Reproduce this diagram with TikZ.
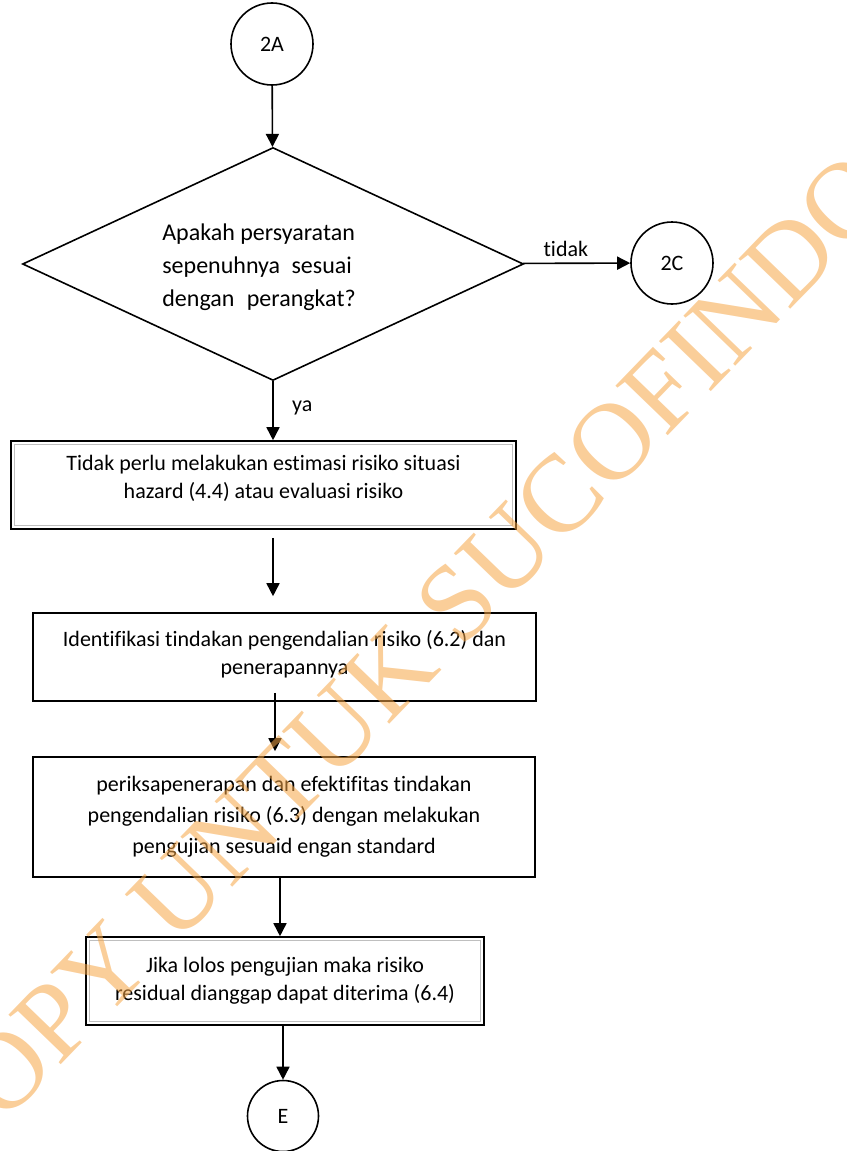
\documentclass[tikz,border=0pt]{standalone}
\usepackage{fontspec}
\setmainfont{Carlito}[Ligatures={NoCommon,NoRare,NoContextual}]
\newfontfamily\wmfont{Liberation Serif}
\usetikzlibrary{shapes.geometric,arrows.meta}
\definecolor{wm}{RGB}{245,165,70}

\begin{document}
\begin{tikzpicture}[x=1pt,y=-1pt,>={Triangle[length=13pt,width=13pt]},line width=1.6pt]
\tikzstyle{circ}=[circle,draw=black,minimum size=82pt,inner sep=0pt,font=\fontsize{22}{28}\selectfont]
\tikzstyle{square}=[rectangle,draw=black,inner sep=0pt,align=center,font=\fontsize{22}{28}\selectfont]
\tikzstyle{lbl}=[font=\fontsize{22}{28}\selectfont]
\tikzstyle{rim}=[draw=black!25,line width=1pt]
\useasboundingbox (0,0) rectangle (846,1151);
\node [circ] (C2A) at (272,44) {2A};
\node [diamond,draw=black,minimum width=501pt,minimum height=233pt,inner sep=0pt] (Q) at (273,264) {}
edge [<-] (C2A);
\node [align=left,font=\fontsize{24}{33}\selectfont] (Qtext) at (259,267) {Apakah persyaratan\\sepenuhnya\hspace{6pt} sesuai\\dengan\hspace{7pt} perangkat?};
\node [circ] (C2C) at (672,263) {2C}
edge [<-] node [lbl,above,pos=0.6,yshift=2pt] {tidak} (Q);
\node [square,minimum width=505pt,minimum height=88pt,text depth=16pt] (B1) at (263.5,485) {Tidak perlu melakukan estimasi risiko situasi\\hazard (4.4) atau evaluasi risiko};
\node [square,minimum width=503pt,minimum height=88pt,text depth=9pt] (B2) at (284.5,657) {Identifikasi tindakan pengendalian risiko (6.2) dan\\penerapannya};
\node [square,minimum width=502pt,minimum height=120pt,font=\fontsize{22}{31}\selectfont] (B3) at (284,817) {periksapenerapan dan efektifitas tindakan\\pengendalian risiko (6.3) dengan melakukan\\pengujian sesuaid engan standard};
\node [square,minimum width=398pt,minimum height=88pt] (B4) at (285,981) {Jika lolos pengujian maka risiko\\residual dianggap dapat diterima (6.4)};
\node [circ,minimum size=71pt] (E) at (283,1116) {E};
\draw [rim] ([shift={(4,4)}]B1.north west) rectangle ([shift={(-4,-4)}]B1.south east);
\draw [rim] ([shift={(4,4)}]B4.north west) rectangle ([shift={(-4,-4)}]B4.south east);
\draw [->] (Q.south) -- (Q.south |- B1.north) node [lbl,pos=0.45,anchor=west,xshift=15pt] {ya};
\draw [->,shorten <=8pt,shorten >=16pt] (B1.south -| Q) -- (B2.north -| Q);
\draw [->,shorten <=-9pt,shorten >=5pt] ([xshift=2pt]B2.south -| Q) -- ([xshift=2pt]B3.north -| Q);
\draw [->] ([xshift=-4pt]B3.south) -- ([xshift=-4pt]B3.south |- B4.north);
\draw [->] (B4.south -| E) -- (E);
\node [rotate=46,font=\wmfont\fontsize{110}{110}\selectfont,text=wm,opacity=.55] (WM) at (400,662) {COPY UNTUK SUCOFINDO};
\end{tikzpicture}
\end{document}
